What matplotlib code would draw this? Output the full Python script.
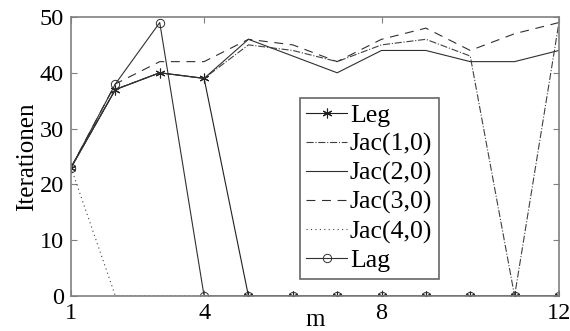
import matplotlib
matplotlib.use("Agg")
import matplotlib.pyplot as plt

m = [1, 2, 3, 4, 5, 6, 7, 8, 9, 10, 11, 12]
leg = [23, 37, 40, 39, 0, 0, 0, 0, 0, 0, 0, 0]
jac10 = [23, 37, 40, 39, 45, 44, 42, 45, 46, 43, 0, 49]
jac20 = [23, 37, 40, 39, 46, 43, 40, 44, 44, 42, 42, 44]
jac30 = [23, 38, 42, 42, 46, 45, 42, 46, 48, 44, 47, 49]
jac40 = [23, 0, 0, 0, 0, 0, 0, 0, 0, 0, 0, 0]
lag = [23, 38, 49, 0, 0, 0, 0, 0, 0, 0, 0, 0]
xticks = [1, 4, 8, 12]
yticks = [0, 10, 20, 30, 40, 50]

plt.rcParams['font.family'] = ['Liberation Serif', 'DejaVu Serif']
fig = plt.figure(figsize=(5.7, 3.31), dpi=100)
ax = fig.add_axes([0.1246, 0.1057, 0.856, 0.843])

lw = 0.8
ax.plot(m, leg, color='#202020', lw=lw, marker=(6, 2, 0), ms=7, mew=0.8, label='Leg')
ax.plot(m, jac10, color='#404040', lw=lw, ls='-.', label='Jac(1,0)')
ax.plot(m, jac20, color='#303030', lw=lw, ls='-', label='Jac(2,0)')
ax.plot(m, jac30, color='#303030', lw=lw, ls=(0, (8, 6)), label='Jac(3,0)')
ax.plot(m, jac40, color='#404040', lw=lw, ls=(0, (1, 3)), label='Jac(4,0)')
ax.plot(m, lag, color='#303030', lw=lw, marker='o', ms=6, mfc='none', mew=0.7, label='Lag')

ax.set_xlim(1, 12)
ax.set_ylim(0, 50)
ax.set_xticks(xticks)
ax.set_yticks(yticks)
ax.tick_params(direction='in', top=True, right=True, labelsize=17.5, length=4,
               color='#808080')
ax.tick_params(axis='x', pad=5)
ax.tick_params(axis='y', pad=5)
for s in ax.spines.values():
    s.set_color('#808080')
    s.set_linewidth(1.2)
ax.set_ylabel('Iterationen', fontsize=18, labelpad=1)
ax.set_xlabel('m', fontsize=18, labelpad=-11)

lg = ax.legend(loc='upper left', bbox_to_anchor=(0.469, 0.71), fontsize=18.5,
               frameon=True, fancybox=False, edgecolor='#404040',
               handlelength=1.6, handletextpad=0.1, borderpad=0.25,
               labelspacing=0.22, borderaxespad=0)
lg.get_frame().set_linewidth(1.2)

fig.savefig('out.png', dpi=100)
